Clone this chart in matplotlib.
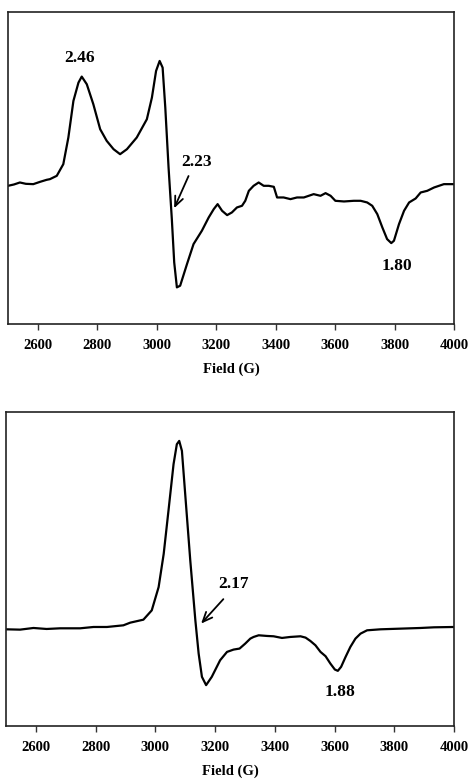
import matplotlib
matplotlib.use("Agg")
import matplotlib.pyplot as plt
import numpy as np

# top spectrum (field in G, intensity in arbitrary units)
field_a = [2500, 2520, 2540, 2560, 2585, 2608, 2630, 2641, 2664, 2686, 2703, 2720,
           2737, 2748, 2765, 2787, 2810, 2832, 2855, 2877, 2900, 2933, 2967, 2984,
           2998, 3010, 3020, 3029, 3040, 3051, 3059, 3068, 3079, 3102, 3124, 3152,
           3175, 3192, 3205, 3220, 3237, 3253, 3270, 3287,
           3298, 3310, 3326, 3343, 3360, 3377, 3394, 3405, 3427, 3450, 3472, 3495,
           3528, 3551, 3568, 3585, 3601, 3630, 3663, 3686, 3708, 3725, 3742, 3759,
           3775, 3789, 3798, 3815, 3832, 3849, 3871, 3888, 3910, 3933, 3966, 4000]
signal_a = [0, 4, 10, 6, 5, 12, 18, 20, 30, 65, 145, 255,
            310, 328, 305, 245, 170, 135, 110, 95, 110, 145, 200, 265,
            345, 375, 355, 235, 55, -100, -230, -305, -300, -235, -175, -135,
            -95, -70, -55, -75, -88, -80, -65, -60,
            -45, -15, 0, 10, 0, 0, -3, -35, -35, -40, -35, -35,
            -25, -30, -22, -30, -45, -47, -45, -45, -50, -60, -85, -125,
            -160, -172, -165, -115, -75, -50, -38, -20, -15, -5, 5, 5]

# bottom spectrum
field_b = [2500, 2547, 2592, 2636, 2681, 2748, 2793, 2838, 2893, 2916, 2960, 2988,
           3011, 3028, 3044, 3061, 3072, 3080, 3089, 3100, 3117, 3134, 3145, 3156,
           3170, 3189, 3217, 3240, 3262, 3282, 3301, 3318, 3329, 3346, 3374, 3396,
           3424, 3452, 3486, 3503, 3519, 3536, 3553, 3570, 3586, 3601, 3611, 3622,
           3637, 3653, 3670, 3687, 3709, 3754, 3821, 3888, 3933, 4000]
signal_b = [-2, -3, 2, -1, 1, 1, 5, 5, 10, 18, 27, 55,
            125, 225, 355, 495, 555, 565, 535, 405, 205, 25, -75, -145,
            -170, -145, -95, -70, -63, -60, -45, -30, -25, -20, -22, -23,
            -28, -25, -23, -27, -37, -50, -70, -83, -105, -123, -127, -115,
            -85, -55, -30, -15, -5, -2, 0, 2, 4, 5]

xticks = [2600, 2800, 3000, 3200, 3400, 3600, 3800, 4000]

# g-value labels: (text, x, y)
labels_a = [("2.46", 2739, 385), ("2.23", 3135, 72), ("1.80", 3809, -240)]
arrow_a = ((3111, 37), (3055, -75))
labels_b = [("2.17", 3262, 135), ("1.88", 3617, -190)]
arrow_b = ((3234, 95), (3147, 9))

serif = "Liberation Serif"

fig = plt.figure(figsize=(4.69, 7.81), dpi=100)
ax1 = fig.add_axes([8 / 469, 1 - 324 / 781, 446 / 469, 312 / 781])
ax2 = fig.add_axes([6 / 469, 1 - 726 / 781, 448 / 469, 314 / 781])

panels = [
    (ax1, field_a, signal_a, (-415, 522), labels_a, arrow_a),
    (ax2, field_b, signal_b, (-293, 652), labels_b, arrow_b),
]

for ax, fx, sy, ylim, labels, arrow in panels:
    ax.plot(fx, sy, color="black", lw=1.6, solid_joinstyle="round")
    ax.set_xlim(2500, 4000)
    ax.set_ylim(*ylim)
    ax.set_yticks([])
    ax.set_xticks(xticks)
    ax.tick_params(axis="x", direction="out", length=4.5, width=1, pad=6,
                   colors="#333333", labelcolor="black")
    for lab in ax.get_xticklabels():
        lab.set_fontfamily(serif)
        lab.set_fontweight("bold")
        lab.set_fontsize(10.5)
    for sp in ax.spines.values():
        sp.set_linewidth(1.2)
        sp.set_color("#222222")
    ax.set_xlabel("Field (G)", fontfamily=serif, fontweight="bold",
                  fontsize=10.5, labelpad=8)
    for txt, x, y in labels:
        ax.text(x, y, txt, ha="center", va="center", fontfamily=serif,
                fontweight="bold", fontsize=12.5)
    tail, head = arrow
    ax.annotate("", xy=head, xytext=tail,
                arrowprops=dict(arrowstyle="->,head_length=0.7,head_width=0.3",
                                color="black", lw=1.3))

fig.savefig("out.png", dpi=100)
